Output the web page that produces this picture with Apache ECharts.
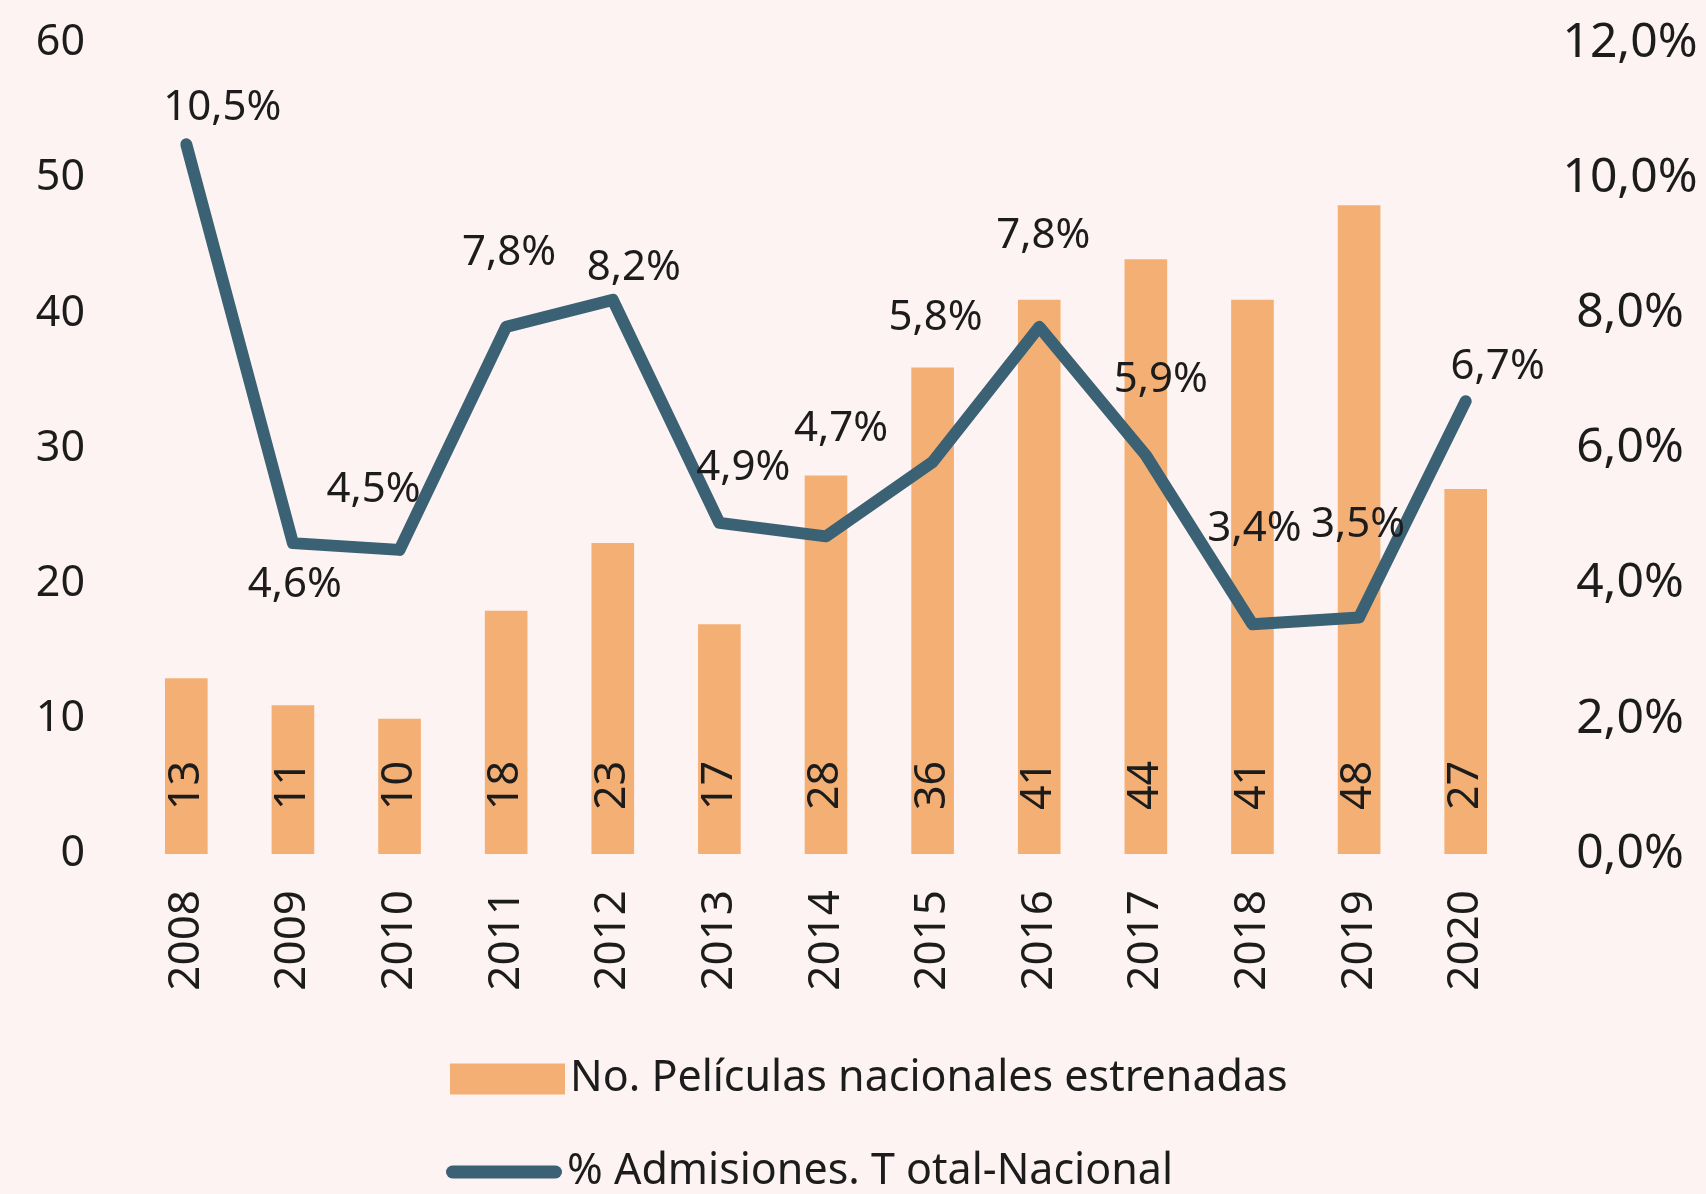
<!DOCTYPE html>
<html>
<head>
<meta charset="utf-8">
<script src="https://cdn.jsdelivr.net/npm/echarts@6/dist/echarts.min.js"></script>
<style>
  html, body { margin: 0; padding: 0; background: #fdf3f2; }
  #chart { width: 1706px; height: 1194px; }
</style>
</head>
<body>
<div id="chart"></div>
<script>
// datos
var years = ['2008', '2009', '2010', '2011', '2012', '2013', '2014', '2015', '2016', '2017', '2018', '2019', '2020']
var films = [13, 11, 10, 18, 23, 17, 28, 36, 41, 44, 41, 48, 27]
var share = [10.5, 4.6, 4.5, 7.8, 8.2, 4.9, 4.7, 5.8, 7.8, 5.9, 3.4, 3.5, 6.7]
var barName = 'No. Películas nacionales estrenadas'
var lineName = '% Admisiones. T otal-Nacional'

// desplazamiento de cada etiqueta de porcentaje (px)
var shareLabelShift = [[36, -36], [2, 42], [-26, -60], [3, -74], [21, -32], [24, -55], [15, -107],
  [3, -144], [4, -91], [15, -75], [2, -95], [-1, -92], [32, -34]]

var textColor = '#1c1c1c'
var font = 'Noto Sans'
var legendText = { fontSize: 43, color: textColor, fontFamily: font, lineHeight: 46 }

function pct (v) {
  return v.toFixed(1).replace('.', ',') + '%'
}

var shareData = share.map(function (v, i) {
  return { value: v, label: { offset: shareLabelShift[i] } }
})

var chart = echarts.init(document.getElementById('chart'))
chart.setOption({
  backgroundColor: '#fdf3f2',
  animation: false,
  textStyle: { fontFamily: font },
  grid: { left: 133, right: 187, top: 43, bottom: 340 },
  legend: [
    {
      left: 445,
      top: 1051,
      itemWidth: 115,
      itemHeight: 31,
      textStyle: legendText,
      data: [{ name: barName, icon: 'rect' }]
    },
    {
      left: 441,
      top: 1144,
      itemWidth: 116,
      itemHeight: 13,
      textStyle: legendText,
      data: [{
        name: lineName,
        icon: 'path://M6.5,0 H109.5 A6.5,6.5 0 0 1 109.5,13 H6.5 A6.5,6.5 0 0 1 6.5,0 Z'
      }]
    }
  ],
  xAxis: {
    type: 'category',
    data: years,
    axisLine: { show: false },
    axisTick: { show: false },
    axisLabel: { rotate: 90, margin: 36, fontSize: 44, color: textColor, fontFamily: font }
  },
  yAxis: [
    {
      type: 'value',
      min: 0,
      max: 60,
      interval: 10,
      splitLine: { show: false },
      axisLabel: { margin: 48, fontSize: 43, color: textColor, fontFamily: font }
    },
    {
      type: 'value',
      min: 0,
      max: 12,
      interval: 2,
      splitLine: { show: false },
      axisLabel: {
        margin: 111,
        align: 'center',
        fontSize: 48,
        color: textColor,
        fontFamily: font,
        formatter: pct
      }
    }
  ],
  series: [
    {
      name: barName,
      type: 'bar',
      data: films,
      barWidth: '40%',
      itemStyle: { color: '#f4b074' },
      label: {
        show: true,
        position: 'insideBottom',
        distance: 44,
        rotate: 90,
        align: 'left',
        verticalAlign: 'middle',
        fontSize: 43,
        color: textColor,
        fontFamily: font
      }
    },
    {
      name: lineName,
      type: 'line',
      yAxisIndex: 1,
      data: shareData,
      symbol: 'circle',
      symbolSize: 1,
      itemStyle: { color: '#3a6174' },
      lineStyle: { color: '#3a6174', width: 12, cap: 'round', join: 'round' },
      label: {
        show: true,
        position: 'inside',
        fontSize: 42,
        color: textColor,
        fontFamily: font,
        formatter: function (p) { return pct(p.value) }
      }
    }
  ]
})
</script>
</body>
</html>
